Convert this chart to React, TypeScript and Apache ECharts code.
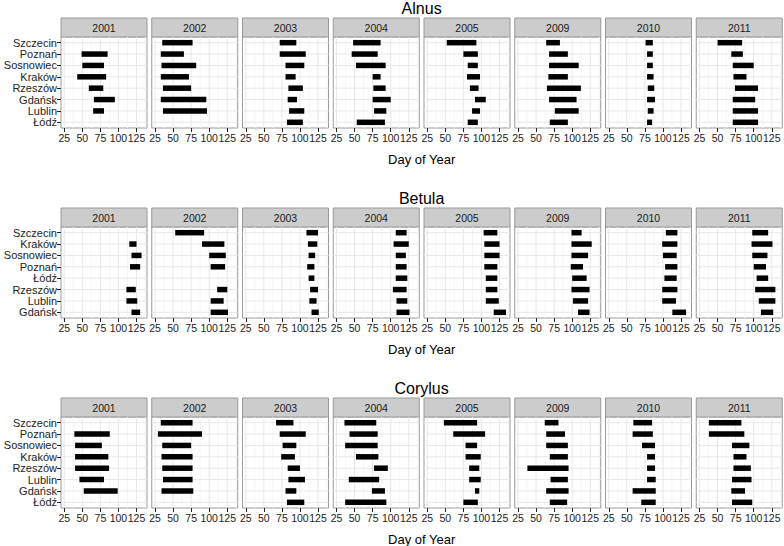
import React, { useEffect, useRef } from 'react';
import * as echarts from 'echarts';

// Pollen season spans (start / end day of year) per city, species and year.
const years = ['2001', '2002', '2003', '2004', '2005', '2009', '2010', '2011'];
const xMajor = [25, 50, 75, 100, 125];
const xMinor = [37.5, 62.5, 87.5, 112.5, 137.5];

const alnusCities = ['Szczecin', 'Poznań', 'Sosnowiec', 'Kraków', 'Rzeszów', 'Gdańsk', 'Lublin', 'Łódź'];
const alnusStart = [
  [null, 49, 50, 43, 59, 66, 65, null],
  [35, 33, 34, 33, 36, 33, 36, null],
  [72, 72, 80, 80, 84, 83, 85, 82],
  [48, 46, 52, 75, 76, 75, 77, 53],
  [52, 75, 81, 80, 84, 91, 87, 81],
  [64, 68, 68, 67, 65, 68, 76, 69],
  [76, 78, 78, 78, 79, 78, 79, 78],
  [50, 69, 71, 72, 74, 71, 71, 71],
];
const alnusEnd = [
  [null, 85, 80, 83, 79, 95, 80, null],
  [77, 65, 82, 72, 75, 96, 97, null],
  [95, 108, 106, 94, 104, 96, 106, 104],
  [86, 82, 93, 86, 93, 100, 94, 92],
  [93, 95, 95, 98, 96, 106, 98, 95],
  [83, 94, 109, 94, 112, 106, 109, 94],
  [86, 86, 86, 87, 88, 89, 87, 85],
  [84, 85, 100, 90, 106, 102, 106, 106],
];

const betulaCities = ['Szczecin', 'Kraków', 'Sosnowiec', 'Poznań', 'Łódź', 'Rzeszów', 'Lublin', 'Gdańsk'];
const betulaStart = [
  [null, 115, 118, 116, null, 111, 111, 118],
  [53, 90, 100, 102, null, 111, 102, 102],
  [109, 111, 112, 110, 112, 114, 113, 116],
  [107, 104, 107, 107, 107, 103, 108, 108],
  [103, 104, 104, 104, 106, 106, 106, 117],
  [99, 99, 99, 98, 100, 99, 101, 108],
  [104, 99, 100, 103, 102, 99, 99, 113],
  [98, 97, 98, 100, 104, 102, 107, 110],
];
const betulaEnd = [
  [null, 125, 132, 130, null, 124, 126, 130],
  [93, 121, 123, 122, null, 125, 120, 126],
  [125, 124, 121, 120, 120, 125, 123, 126],
  [122, 125, 121, 122, 123, 122, 123, 126],
  [122, 125, 125, 122, 122, 122, 124, 134],
  [113, 127, 122, 115, 120, 124, 122, 124],
  [120, 120, 119, 120, 119, 120, 118, 132],
  [120, 126, 119, 117, 120, 130, 130, 127],
];

const corylusCities = ['Szczecin', 'Poznań', 'Sosnowiec', 'Kraków', 'Rzeszów', 'Lublin', 'Gdańsk', 'Łódź'];
const corylusStart = [
  [null, 39, 40, 40, 40, 46, 52, null],
  [33, 29, 35, 34, 35, 36, 34, null],
  [67, 72, 76, 74, 83, 84, 80, 82],
  [36, 43, 37, 52, 77, 42, 74, 37],
  [48, 61, 78, 78, 83, 83, 91, 75],
  [62, 64, 64, 69, 38, 70, 64, 69],
  [59, 58, 71, 78, 78, 78, 58, 70],
  [38, 38, 70, 72, 72, 70, 69, 70],
];
const corylusEnd = [
  [null, 88, 77, 86, 87, 80, 99, null],
  [77, 90, 75, 77, 77, 77, 78, null],
  [91, 108, 95, 93, 100, 107, 95, 106],
  [80, 82, 82, 83, 96, 84, 92, 94],
  [94, 105, 94, 99, 97, 99, 97, 95],
  [81, 90, 94, 94, 95, 94, 95, 93],
  [85, 86, 89, 89, 89, 90, 90, 90],
  [83, 87, 94, 90, 96, 97, 88, 98],
];

const species = [
  { name: 'Alnus', cities: alnusCities, start: alnusStart, end: alnusEnd },
  { name: 'Betula', cities: betulaCities, start: betulaStart, end: betulaEnd },
  { name: 'Corylus', cities: corylusCities, start: corylusStart, end: corylusEnd },
];

const FONT = '"Liberation Sans", Arial, Helvetica, sans-serif';
const X_MIN = 20.5;
const X_MAX = 139.5;

// facet layout
const PANEL_LEFT = 61;
const PANEL_STEP = 90.75;
const PANEL_W = 86;
const ROW_STEP = 190;
const STRIP_TOP = 18;
const STRIP_H = 19;
const PANEL_H = 91;
const BORDER = '#999999';
const TEXT = '#222222';

function buildOption() {
  const grid: any[] = [];
  const xAxis: any[] = [];
  const yAxis: any[] = [];
  const series: any[] = [];
  const graphic: any[] = [];

  species.forEach((sp, r) => {
    const rowTop = r * ROW_STEP;
    years.forEach((yr, c) => {
      const gi = r * years.length + c;
      const left = PANEL_LEFT + c * PANEL_STEP;
      grid.push({
        left,
        top: rowTop + STRIP_TOP + STRIP_H,
        width: PANEL_W,
        height: PANEL_H,
        show: true,
        backgroundColor: '#ffffff',
        borderColor: BORDER,
        borderWidth: 1,
      });
      xAxis.push({
        gridIndex: gi,
        type: 'value',
        min: X_MIN,
        max: X_MAX,
        axisLine: { show: false },
        splitLine: { show: false },
        axisTick: { show: true, customValues: xMajor, length: 4, lineStyle: { color: TEXT, width: 1 } },
        axisLabel: {
          show: true,
          customValues: xMajor,
          fontSize: 10.5,
          fontFamily: FONT,
          color: TEXT,
          margin: 4,
          hideOverlap: false,
        },
      });
      yAxis.push({
        gridIndex: gi,
        type: 'category',
        data: sp.cities,
        inverse: true,
        axisLine: { show: false },
        splitLine: { show: false },
        axisTick: { show: c === 0, interval: 0, alignWithLabel: true, length: 4, lineStyle: { color: TEXT, width: 1 } },
        axisLabel: { show: c === 0, interval: 0, fontSize: 11, fontFamily: FONT, color: TEXT, margin: 4 },
      });

      // panel grid lines: [value, orientation (0 vertical / 1 horizontal), major flag]
      const lines: number[][] = [
        ...xMinor.map((v) => [v, 0, 0]),
        ...xMajor.map((v) => [v, 0, 1]),
        ...sp.cities.map((_, i) => [i, 1, 1]),
      ];
      series.push({
        type: 'custom',
        xAxisIndex: gi,
        yAxisIndex: gi,
        silent: true,
        z: 1,
        data: lines,
        renderItem: (params: any, api: any) => {
          const v = api.value(0);
          const o = api.value(1);
          const major = api.value(2);
          const cs = params.coordSys;
          const stroke = major ? '#e8e8e8' : '#f6f6f6';
          if (o === 0) {
            const x = api.coord([v, 0])[0];
            if (x < cs.x || x > cs.x + cs.width) return null;
            return { type: 'line', shape: { x1: x, y1: cs.y, x2: x, y2: cs.y + cs.height }, style: { stroke, lineWidth: 1 } };
          }
          const y = api.coord([X_MIN, v])[1];
          return { type: 'line', shape: { x1: cs.x, y1: y, x2: cs.x + cs.width, y2: y }, style: { stroke, lineWidth: 1 } };
        },
      });

      // season bars
      const bars: number[][] = [];
      sp.cities.forEach((_, i) => {
        const s = sp.start[c][i];
        const e = sp.end[c][i];
        if (s != null && e != null) bars.push([s, e, i]);
      });
      series.push({
        type: 'custom',
        xAxisIndex: gi,
        yAxisIndex: gi,
        silent: true,
        z: 3,
        encode: { x: [0, 1], y: 2 },
        data: bars,
        renderItem: (_params: any, api: any) => {
          const idx = api.value(2);
          const p0 = api.coord([api.value(0), idx]);
          const p1 = api.coord([api.value(1), idx]);
          const h = 5.5;
          return {
            type: 'rect',
            shape: { x: p0[0], y: p0[1] - h / 2, width: p1[0] - p0[0], height: h },
            style: { fill: '#000000' },
          };
        },
      });

      // facet strip
      graphic.push({
        type: 'rect',
        shape: { x: left, y: rowTop + STRIP_TOP, width: PANEL_W, height: STRIP_H },
        style: { fill: '#cccccc', stroke: BORDER, lineWidth: 1 },
        silent: true,
      });
      graphic.push({
        type: 'text',
        x: left + PANEL_W / 2,
        y: rowTop + STRIP_TOP + STRIP_H / 2 + 0.5,
        style: {
          text: yr,
          fill: '#1a1a1a',
          font: `10.5px ${FONT}`,
          textAlign: 'center',
          textVerticalAlign: 'middle',
          align: 'center',
          verticalAlign: 'middle',
        },
        silent: true,
      });
    });

    const centerX = PANEL_LEFT + (years.length * PANEL_STEP - (PANEL_STEP - PANEL_W)) / 2;
    graphic.push({
      type: 'text',
      x: centerX,
      y: rowTop + 8.5,
      style: {
        text: sp.name,
        fill: '#000000',
        font: `16px ${FONT}`,
        textAlign: 'center',
        textVerticalAlign: 'middle',
        align: 'center',
        verticalAlign: 'middle',
      },
      silent: true,
    });
    graphic.push({
      type: 'text',
      x: centerX,
      y: rowTop + 159,
      style: {
        text: 'Day of Year',
        fill: '#000000',
        font: `13px ${FONT}`,
        textAlign: 'center',
        textVerticalAlign: 'middle',
        align: 'center',
        verticalAlign: 'middle',
      },
      silent: true,
    });
  });

  return {
    animation: false,
    backgroundColor: '#ffffff',
    textStyle: { fontFamily: FONT },
    grid,
    xAxis,
    yAxis,
    series,
    graphic: { elements: graphic },
  };
}

export default function App() {
  const ref = useRef<HTMLDivElement>(null);
  useEffect(() => {
    if (!ref.current) return;
    const chart = echarts.init(ref.current, null, { renderer: 'svg' });
    chart.setOption(buildOption() as any);
    return () => chart.dispose();
  }, []);
  return (
    <div
      ref={ref}
      style={{ position: 'fixed', left: 0, top: 0, width: 784, height: 546 }}
    />
  );
}
